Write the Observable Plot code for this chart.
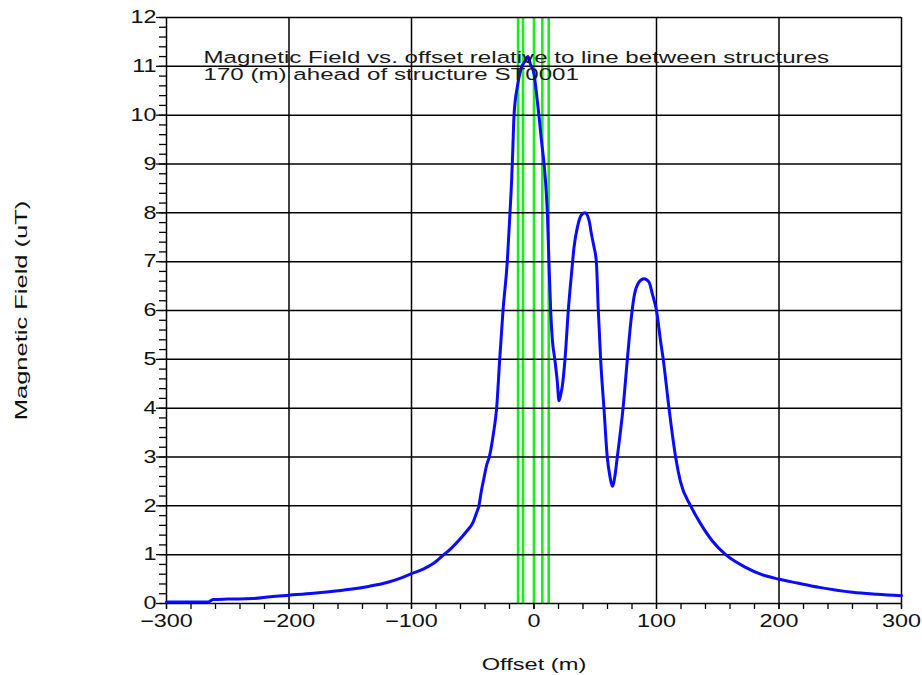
<!DOCTYPE html>
<html>
<head>
<meta charset="utf-8">
<script src="https://cdn.jsdelivr.net/npm/d3@7"></script>
<script src="https://cdn.jsdelivr.net/npm/@observablehq/plot@0.6"></script>
<style>
  html, body { margin: 0; padding: 0; background: #fff; }
  #chart { width: 922px; height: 675px; }
</style>
</head>
<body>
<div id="chart"></div>
<script>
// Offset (m) along the profile and measured magnetic field (uT)
const offsets = [-300, -280, -266, -262, -250, -230, -215, -200, -180, -160, -150, -135, -120, -110, -100, -90, -80, -75, -68, -60, -55, -50, -47, -45, -43, -41, -38.5, -36.5, -33, -30.5, -28, -25.3, -21.8, -19.6, -18.2, -17.3, -16.3, -13.5, -10.6, -7, -5, -3, 0, 2, 4, 6, 8.2, 9.8, 10.9, 12.2, 13.6, 15, 17, 19, 20.4, 22, 23.1, 25.3, 28, 30.8, 32.7, 35.4, 38.5, 41.6, 44.9, 47, 49, 50.9, 52.5, 54.4, 57.1, 59.8, 62, 64, 66, 68, 72.7, 76.2, 78.9, 81.6, 85.7, 89.8, 93.9, 96.6, 100, 103.3, 105.5, 110.2, 115.6, 119.5, 127.9, 136.1, 145.6, 156.5, 172.8, 185, 199.5, 215, 233, 260, 280, 300];
const field = [0.03, 0.03, 0.03, 0.08, 0.09, 0.10, 0.14, 0.17, 0.21, 0.26, 0.29, 0.35, 0.43, 0.51, 0.61, 0.71, 0.86, 0.97, 1.12, 1.33, 1.48, 1.65, 1.85, 2.0, 2.3, 2.55, 2.85, 3.0, 3.5, 4.0, 5.0, 6.0, 7.0, 8.0, 8.7, 9.3, 10.0, 10.6, 10.95, 11.12, 11.2, 11.05, 10.85, 10.45, 10.0, 9.5, 9.0, 8.5, 8.0, 7.0, 6.0, 5.4, 5.0, 4.55, 4.15, 4.3, 4.45, 5.0, 6.0, 6.8, 7.3, 7.7, 7.95, 8.0, 7.85, 7.55, 7.3, 7.0, 6.0, 5.0, 4.0, 3.0, 2.6, 2.4, 2.6, 3.0, 4.0, 5.0, 5.73, 6.27, 6.58, 6.65, 6.58, 6.34, 6.0, 5.38, 5.0, 4.0, 3.0, 2.5, 2.0, 1.63, 1.28, 1.0, 0.74, 0.6, 0.5, 0.42, 0.33, 0.23, 0.19, 0.16];

// Structure marker lines (offset, m)
const structureLines = [-13, -9, 0, 6.8, 12];

// Tick values
const xMajor = [-300, -200, -100, 0, 100, 200, 300];
const xMinor = d3.range(-300, 301, 20);
const yMajor = d3.range(0, 13, 1);
const yMinor = d3.range(0, 12.01, 0.2).map(v => Math.round(v * 10) / 10);

const titleLines = ["Magnetic Field vs. offset relative to line between structures", "170 (m) ahead of structure ST0001"];
const xLabel = "Offset (m)";
const yLabel = "Magnetic Field (uT)";

const data = offsets.map((x, i) => ({x, y: field[i]}));

const svg = Plot.plot({
  width: 922,
  height: 675,
  marginLeft: 166,
  marginRight: 21,
  marginTop: 17,
  marginBottom: 72,
  x: {domain: [-300, 300], label: null},
  y: {domain: [0, 12], label: null},
  style: {fontFamily: "'Liberation Sans', Arial, sans-serif", fontSize: "18px", color: "#111", background: "#fff"},
  marks: [
    Plot.ruleX(xMajor, {stroke: "#000", strokeWidth: 1.5}),
    Plot.ruleX(structureLines, {stroke: "#19f019", strokeWidth: 2.6}),
    Plot.ruleY(yMajor, {stroke: "#000", strokeWidth: 1.5}),
    Plot.axisX(xMinor, {tickSize: 6, text: null, stroke: "#000", strokeWidth: 1.3}),
    Plot.axisX(xMajor, {tickSize: 6, tickPadding: 5, fontSize: 18, fill: "#111", stroke: "#000", strokeWidth: 1.3}),
    Plot.axisY(yMinor, {tickSize: 7, text: null, stroke: "#000", strokeWidth: 1.3}),
    Plot.axisY(yMajor, {tickSize: 10, tickPadding: 0, fontSize: 18, fill: "#111", stroke: "#000", strokeWidth: 1.3}),
    Plot.line(data, {x: "x", y: "y", stroke: "#0a0aff", strokeWidth: 3, curve: "monotone-x"}),
    Plot.text([titleLines[0]], {frameAnchor: "top-left", dx: 37, dy: 45, lineAnchor: "bottom", textAnchor: "start", fontSize: 17, fill: "#1a1a1a"}),
    Plot.text([titleLines[1]], {frameAnchor: "top-left", dx: 37, dy: 62.5, lineAnchor: "bottom", textAnchor: "start", fontSize: 17, fill: "#1a1a1a"}),
    Plot.text([xLabel], {frameAnchor: "bottom", dy: 66, lineAnchor: "bottom", textAnchor: "middle", fontSize: 17, fill: "#111"}),
    Plot.text([yLabel], {frameAnchor: "left", dx: -140, rotate: -90, lineAnchor: "bottom", textAnchor: "middle", fontSize: 17, fill: "#111"})
  ]
});

// Widen glyphs along the reading direction to mimic the original's wide rendering
function stretchText(t, s) {
  const tr = t.getAttribute("transform") || "";
  t.setAttribute("transform", (tr + ` scale(${s},1)`).trim());
}
svg.querySelectorAll(`g[aria-label="x-axis tick label"] text, g[aria-label="y-axis tick label"] text`).forEach(t => stretchText(t, 1.3));
svg.querySelectorAll("text").forEach(t => {
  const s = t.textContent;
  if (titleLines.includes(s)) stretchText(t, 1.42);
  else if (s === xLabel) stretchText(t, 1.39);
  else if (s === yLabel) stretchText(t, 1.5);
});

document.getElementById("chart").appendChild(svg);
</script>
</body>
</html>
